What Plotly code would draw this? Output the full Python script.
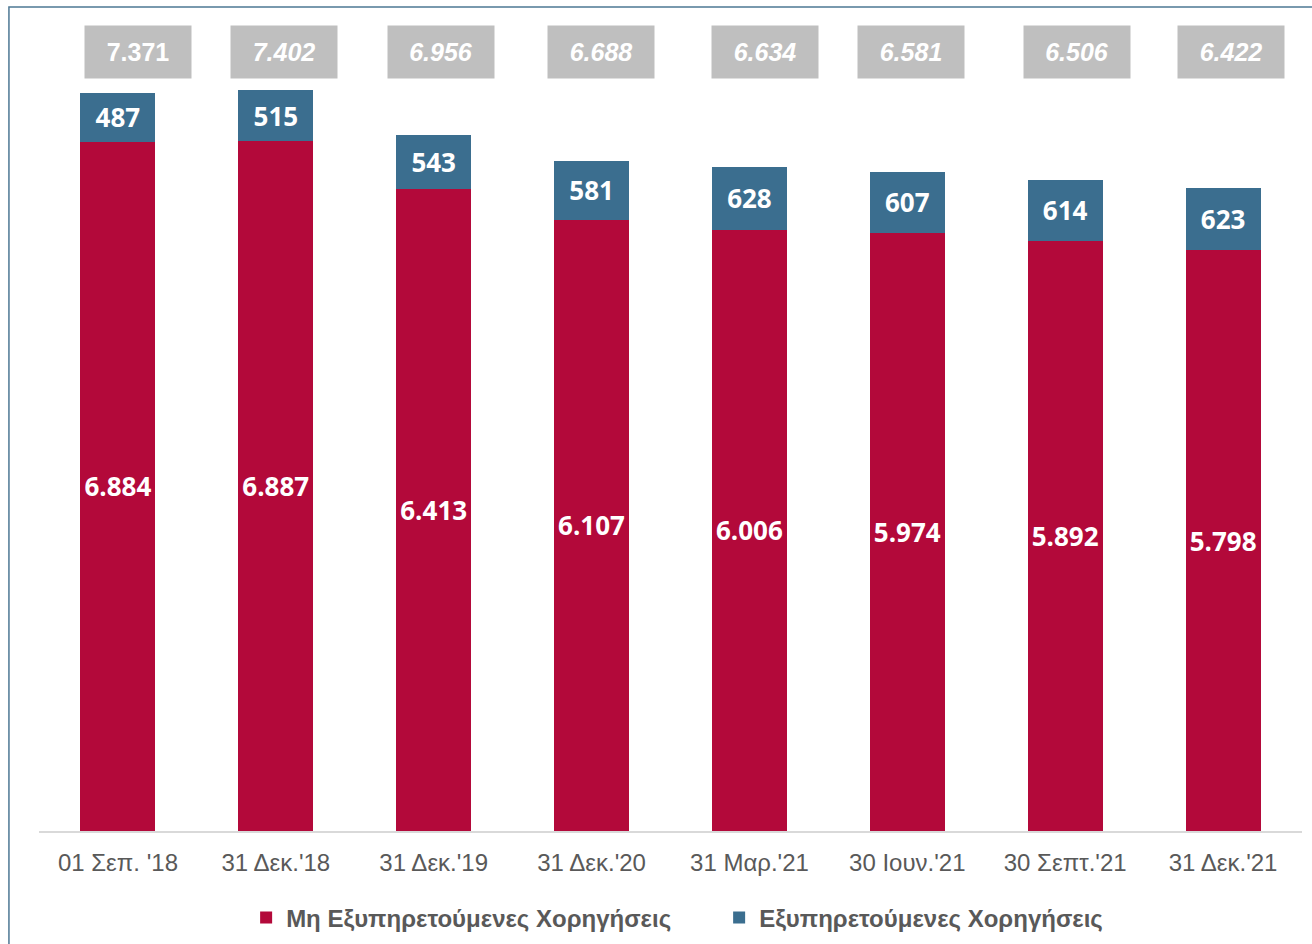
import plotly.graph_objects as go

# data
dates = ["01 Σεπ. '18", "31 Δεκ.'18", "31 Δεκ.'19", "31 Δεκ.'20",
         "31 Μαρ.'21", "30 Ιουν.'21", "30 Σεπτ.'21", "31 Δεκ.'21"]
non_performing = [6884, 6887, 6413, 6107, 6006, 5974, 5892, 5798]
performing = [487, 515, 543, 581, 628, 607, 614, 623]
totals = [7371, 7402, 6956, 6688, 6634, 6581, 6506, 6422]

RED = "#B3093A"
BLUE = "#3B6E8F"
GREY_BOX = "#BFBFBF"
TEXT_GREY = "#595959"

fig = go.Figure()

fig.add_trace(go.Bar(
    x=dates, y=non_performing, name="Μη Εξυπηρετούμενες Χορηγήσεις",
    marker=dict(color=RED, line=dict(width=0)),
    texttemplate="%{y:,}", textposition="inside", insidetextanchor="middle",
    textfont=dict(family="Open Sans", size=26, color="white", weight="bold"),
    hoverinfo="skip",
))
fig.add_trace(go.Bar(
    x=dates, y=performing, name="Εξυπηρετούμενες Χορηγήσεις",
    marker=dict(color=BLUE, line=dict(width=0)),
    texttemplate="%{y:,}", textposition="inside", insidetextanchor="middle",
    textfont=dict(family="Open Sans", size=26, color="white", weight="bold"),
    hoverinfo="skip",
))

# grey total boxes above the bars
box_shift = [20, 8, 7, 9, 16, 4, 12, 8]
for i, (d, t) in enumerate(zip(dates, totals)):
    label = f"{t:,}".replace(",", ".")
    fig.add_annotation(
        x=d, y=52, xref="x", yref="paper", xshift=box_shift[i],
        text=label, showarrow=False, yanchor="middle",
        font=dict(family="Liberation Sans, Arial", size=25, color="white",
                  weight="bold", style="normal" if i == 0 else "italic"),
        bgcolor=GREY_BOX, width=104, height=50, borderpad=1,
    )

fig.update_layout(
    barmode="stack", bargap=0.525,
    width=1312, height=944,
    margin=dict(l=39, r=10, t=20, b=113, autoexpand=False),
    paper_bgcolor="white", plot_bgcolor="white",
    separators=",.",
    xaxis=dict(showgrid=False, showline=True, linecolor="#D9D9D9", linewidth=2,
               ticks="", tickfont=dict(family="Liberation Sans, Arial", size=24, color=TEXT_GREY),
               ticklabelstandoff=9),
    yaxis=dict(visible=False, range=[0, 8100]),
    legend=dict(orientation="h", x=0.164, xanchor="left", y=-0.107, yanchor="middle",
                traceorder="normal",
                font=dict(family="Liberation Sans, Arial", size=24, color=TEXT_GREY, weight="bold"),
                entrywidth=428, itemwidth=30),
    showlegend=True,
)

# annotation y is given in pixels from the top above; convert to paper units
plot_h = 944 - 20 - 113
for a in fig.layout.annotations:
    a.y = (944 - 113 - a.y) / plot_h

# thin frame around the whole picture
fig.add_shape(type="rect", xref="paper", yref="paper",
              x0=-0.0238, x1=1.02, y0=-0.3, y1=(944 - 113 - 7) / plot_h,
              line=dict(color="#4E7894", width=1.5), layer="below")

fig.write_html("out.html", config={"displayModeBar": False},
               post_script="document.body.style.margin='0';document.body.style.overflow='hidden';")
